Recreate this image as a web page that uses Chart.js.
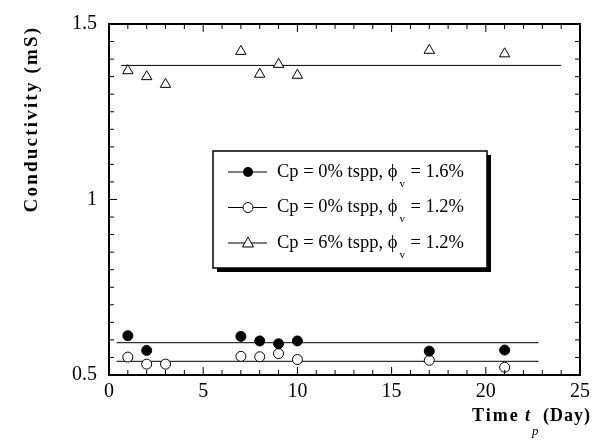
<!DOCTYPE html>
<html>
<head>
<meta charset="utf-8">
<script src="https://cdn.jsdelivr.net/npm/chart.js@4.4.0/dist/chart.umd.min.js"></script>
<style>
    body { margin: 0; background: #fff; }
    #wrap { width: 597px; height: 445px; }
</style>
</head>
<body>
<div id="wrap"><canvas id="grafico"></canvas></div>
<script>
// dados
var dias = [1, 2, 3, 7, 8, 9, 10, 17, 21];
var diasCheio = [1, 2, 7, 8, 9, 10, 17, 21];
var cheio16 = [0.612, 0.570, 0.610, 0.597, 0.589, 0.597, 0.568, 0.571];
var vazio12 = [0.551, 0.531, 0.531, 0.553, 0.552, 0.561, 0.544, 0.542, 0.522];
var tri12 = [1.367, 1.350, 1.328, 1.422, 1.357, 1.385, 1.354, 1.425, 1.415];
var mediaCheio = 0.592;
var mediaVazio = 0.539;
var mediaTri = 1.382;
var xTicks = [0, 5, 10, 15, 20, 25];
var yTicks = [0.5, 1, 1.5];
var legendas = [
    { txt: 'Cp = 0% tspp, \u03d5', sub: 'v', fim: '= 1.6%', estilo: 'cheio' },
    { txt: 'Cp = 0% tspp, \u03d5', sub: 'v', fim: '= 1.2%', estilo: 'vazio' },
    { txt: 'Cp = 6% tspp, \u03d5', sub: 'v', fim: '= 1.2%', estilo: 'tri' }
];

function pontos(xs, ys) {
    var out = [];
    for (var i = 0; i < xs.length; i++) out.push({ x: xs[i], y: ys[i] });
    return out;
}

var serif = '"Liberation Serif", "DejaVu Serif", serif';

function marcador(ctx, estilo, x, y) {
    ctx.save();
    ctx.lineWidth = 1;
    ctx.strokeStyle = '#000';
    if (estilo == 'cheio') {
        ctx.fillStyle = '#000';
        ctx.beginPath(); ctx.arc(x, y, 5, 0, Math.PI * 2); ctx.fill();
    } else if (estilo == 'vazio') {
        ctx.fillStyle = '#fff';
        ctx.beginPath(); ctx.arc(x, y, 5, 0, Math.PI * 2); ctx.fill(); ctx.stroke();
    } else {
        ctx.fillStyle = '#fff';
        ctx.beginPath(); ctx.moveTo(x, y - 6); ctx.lineTo(x + 5.5, y + 4); ctx.lineTo(x - 5.5, y + 4); ctx.closePath();
        ctx.fill(); ctx.stroke();
    }
    ctx.restore();
}

const moldura = {
    id: 'moldura',
    afterDraw: function (chart) {
        var ctx = chart.ctx;
        var a = chart.chartArea;
        var sx = chart.scales.x, sy = chart.scales.y;
        ctx.save();
        // ticks internos
        ctx.strokeStyle = '#000';
        ctx.lineWidth = 1;
        ctx.beginPath();
        for (var d = 0; d <= 25; d++) {
            var px = sx.getPixelForValue(d);
            var len = (d % 5 == 0) ? 8 : 5;
            ctx.moveTo(px, a.bottom); ctx.lineTo(px, a.bottom - len);
            ctx.moveTo(px, a.top); ctx.lineTo(px, a.top + len);
        }
        for (var k = 0; k <= 20; k++) {
            var v = 0.5 + k * 0.05;
            var py = sy.getPixelForValue(v);
            var l2 = (k % 10 == 0) ? 8 : 5;
            ctx.moveTo(a.left, py); ctx.lineTo(a.left + l2, py);
            ctx.moveTo(a.right, py); ctx.lineTo(a.right - l2, py);
        }
        ctx.stroke();
        ctx.lineWidth = 2;
        ctx.strokeRect(a.left, a.top, a.right - a.left, a.bottom - a.top);

        // legenda
        var bx = 213, by = 151, bw = 274, bh = 117;
        ctx.fillStyle = '#000';
        ctx.fillRect(bx + 4, by + 4, bw, bh);
        ctx.fillStyle = '#fff';
        ctx.fillRect(bx, by, bw, bh);
        ctx.lineWidth = 1.5;
        ctx.strokeRect(bx, by, bw, bh);
        for (var i = 0; i < legendas.length; i++) {
            var ly = 172 + i * 35.5;
            ctx.lineWidth = 1;
            ctx.beginPath(); ctx.moveTo(228, ly); ctx.lineTo(267, ly); ctx.stroke();
            marcador(ctx, legendas[i].estilo, 248, ly);
            ctx.fillStyle = '#000';
            ctx.font = '18.5px ' + serif;
            ctx.textBaseline = 'middle';
            ctx.textAlign = 'left';
            var t = legendas[i].txt;
            ctx.fillText(t, 277, ly);
            var w = ctx.measureText(t).width;
            ctx.font = '11px ' + serif;
            ctx.fillText(legendas[i].sub, 277 + w + 2, ly + 12);
            ctx.font = '18.5px ' + serif;
            ctx.fillText(legendas[i].fim, 277 + w + 13, ly);
        }

        // titulos dos eixos
        ctx.fillStyle = '#000';
        ctx.font = 'bold 19px ' + serif;
        ctx.textBaseline = 'middle';
        ctx.save();
        ctx.translate(32, 119);
        ctx.rotate(-Math.PI / 2);
        ctx.textAlign = 'center';
        ctx.letterSpacing = '2.2px';
        ctx.fillText('Conductivity (mS)', 0, 0);
        ctx.restore();

        ctx.textAlign = 'left';
        ctx.font = 'bold 18px ' + serif;
        ctx.letterSpacing = '2px';
        ctx.fillText('Time', 472, 416);
        ctx.letterSpacing = '0px';
        ctx.font = 'italic bold 18px ' + serif;
        ctx.fillText('t', 525, 416);
        ctx.font = 'italic 13px ' + serif;
        ctx.fillText('p', 532, 432);
        ctx.font = 'bold 18px ' + serif;
        ctx.letterSpacing = '1px';
        ctx.fillText('(Day)', 543, 416);
        ctx.restore();
    }
};

const config = {
    type: 'scatter',
    data: {
        datasets: [
            {
                data: pontos(diasCheio, cheio16),
                pointStyle: 'circle', pointRadius: 5,
                backgroundColor: '#000', borderColor: '#000', borderWidth: 1
            },
            {
                data: pontos(dias, vazio12),
                pointStyle: 'circle', pointRadius: 5,
                backgroundColor: '#fff', borderColor: '#000', borderWidth: 1
            },
            {
                data: pontos(dias, tri12),
                pointStyle: 'triangle', pointRadius: 6,
                backgroundColor: '#fff', borderColor: '#000', borderWidth: 1
            },
            {
                data: [{ x: 0.4, y: mediaCheio }, { x: 22.8, y: mediaCheio }],
                showLine: true, pointRadius: 0, borderColor: '#000', borderWidth: 1
            },
            {
                data: [{ x: 0.4, y: mediaVazio }, { x: 22.8, y: mediaVazio }],
                showLine: true, pointRadius: 0, borderColor: '#000', borderWidth: 1
            },
            {
                data: [{ x: 0.65, y: mediaTri }, { x: 24, y: mediaTri }],
                showLine: true, pointRadius: 0, borderColor: '#000', borderWidth: 1
            }
        ]
    },
    options: {
        responsive: true,
        maintainAspectRatio: false,
        animation: false,
        layout: { padding: { top: 20, right: 17, left: 0, bottom: 0 } },
        plugins: {
            legend: { display: false },
            tooltip: { enabled: false }
        },
        scales: {
            x: {
                type: 'linear', min: 0, max: 25,
                afterFit: function (s) { s.height = 70; },
                afterBuildTicks: function (s) { s.ticks = xTicks.map(function (v) { return { value: v }; }); },
                grid: { display: false, drawTicks: false },
                border: { display: false },
                ticks: { color: '#000', padding: 5, font: { family: serif, size: 20 } }
            },
            y: {
                type: 'linear', min: 0.5, max: 1.5,
                afterFit: function (s) { s.width = 109; },
                afterBuildTicks: function (s) { s.ticks = yTicks.map(function (v) { return { value: v }; }); },
                grid: { display: false, drawTicks: false },
                border: { display: false },
                ticks: {
                    color: '#000', padding: 12, font: { family: serif, size: 20 },
                    callback: function (v) { return String(v); }
                }
            }
        }
    },
    plugins: [moldura]
};

new Chart(document.getElementById('grafico'), config);
</script>
</body>
</html>
